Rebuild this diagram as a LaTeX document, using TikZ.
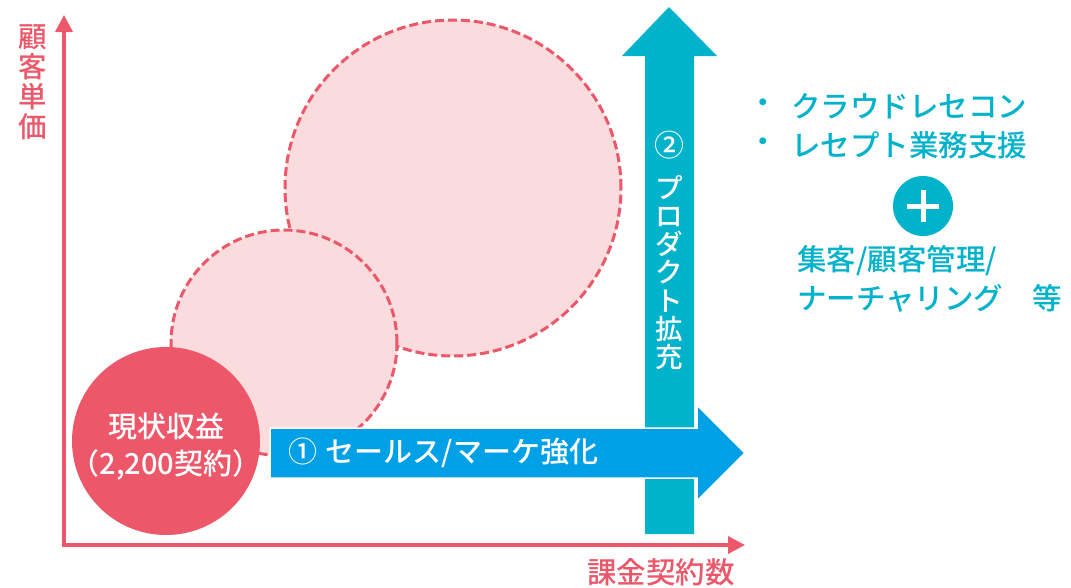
\documentclass[tikz,border=0pt]{standalone}
\usepackage{fontspec}
\setmainfont{Noto Sans CJK JP}[UprightFont={* Medium}]
\usetikzlibrary{arrows.meta}
\definecolor{axispink}{RGB}{235,88,106}
\definecolor{solidpink}{RGB}{236,88,106}
\definecolor{lightpink}{RGB}{250,219,222}
\definecolor{arrowblue}{RGB}{0,160,230}
\definecolor{arrowteal}{RGB}{0,178,202}
\tikzset{
  axisline/.style={draw=axispink, line width=3.5pt, {Triangle[length=17pt,width=17pt]}-{Triangle[length=17pt,width=17pt]}},
  dashcircle/.style={circle, draw=axispink, fill=lightpink, line width=3pt, dash pattern=on 9pt off 4pt, inner sep=0pt},
  bigtext/.style={font=\fontsize{28}{30}\selectfont},
  whitetext/.style={bigtext, text=white, inner sep=0pt},
  tealtext/.style={font=\fontsize{29.5}{30}\selectfont, text=arrowteal, inner sep=0pt, anchor=west},
}
\begin{document}
\begin{tikzpicture}[x=1pt,y=-1pt]
\useasboundingbox[fill=white] (0,0) rectangle (1071,587);
% axes
\coordinate (ytip) at (64,15);
\coordinate (orig) at (64,545);
\coordinate (xtip) at (745,545);
\draw[axisline] (ytip) -- (orig) -- (xtip);
\node[text=axispink, align=center, font=\fontsize{28.5}{30}\selectfont] (ylabel) at (33,82) {顧\\客\\単\\価};
\node[text=axispink, font=\fontsize{29.5}{30}\selectfont] (xlabel) at (661,572) {課金契約数};
% circles
\node[dashcircle, minimum size=336pt] (big) at (453,188) {};
\node[dashcircle, minimum size=226pt] (mid) at (284,343) {};
% vertical arrow
\fill[arrowteal] (645,534) -- (645,56) -- (622,56) -- (669,7) -- (717,56) -- (694,56) -- (694,534) -- cycle;
\node[whitetext, font=\fontsize{30}{30}\selectfont] (two) at (669,145) {②};
\node[whitetext, align=center, font=\fontsize{27.5}{28.2}\selectfont] (prod) at (669,272.5) {プ\\ロ\\ダ\\ク\\ト\\拡\\充};
% solid circle
\node[circle, fill=solidpink, minimum size=188pt, inner sep=0pt] (cur) at (166,441) {};
\node[whitetext, font=\fontsize{29}{30}\selectfont] (curA) at (166,427) {現状収益};
\node[whitetext, font=\fontsize{29}{30}\selectfont] (curB) at (166,465) {（2,200契約）};
% horizontal arrow
\filldraw[fill=arrowblue, draw=white, line width=1.5pt] (270,428) -- (697,428) -- (697,405) -- (745,453) -- (697,501) -- (697,478) -- (270,478) -- cycle;
\node[whitetext, anchor=west, font=\fontsize{29}{30}\selectfont] (sales) at (288,453) {①\hspace{0.3em}セールス/マーケ強化};
% right texts
\node[tealtext] (b1) at (748,106) {・};
\node[tealtext] (t1) at (791,106) {クラウドレセコン};
\node[tealtext] (b2) at (748,145) {・};
\node[tealtext] (t2) at (791,145) {レセプト業務支援};
\node[circle, fill=arrowteal, minimum size=60pt, inner sep=0pt] (plus) at (923,206) {};
\draw[white, line width=5pt] ([xshift=-16pt]plus.center) -- ([xshift=16pt]plus.center);
\draw[white, line width=5pt] ([yshift=-16pt]plus.center) -- ([yshift=16pt]plus.center);
\node[tealtext] (t3) at (797,261) {集客/顧客管理/};
\node[tealtext] (t4) at (797,298) {ナーチャリング　等};
\end{tikzpicture}
\end{document}
